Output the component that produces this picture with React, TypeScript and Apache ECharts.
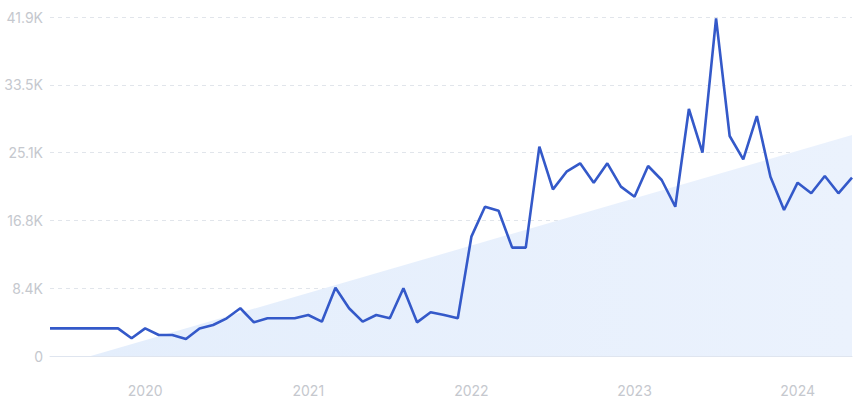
import React, { useEffect, useRef } from "react";
import * as echarts from "echarts";

// Monthly categories, June 2019 – May 2024
const startYear = 2019;
const startMonth = 6;
const monthCount = 60;
const months: string[] = [];
for (let i = 0; i < monthCount; i++) {
  const m = startMonth - 1 + i;
  const y = startYear + Math.floor(m / 12);
  const mm = (m % 12) + 1;
  months.push(`${y}-${mm < 10 ? "0" + mm : mm}`);
}

const searchVolume: number[] = [
  3420, 3420, 3420, 3420, 3420, 3420, 2190, 3420, 2600, 2600,
  2100, 3400, 3830, 4660, 5900, 4160, 4660, 4660, 4660, 5070,
  4240, 8440, 5900, 4240, 5070, 4660, 8370, 4160, 5400, 5070,
  4660, 14750, 18450, 17960, 13390, 13390, 25870, 20600, 22780, 23820,
  21420, 23820, 20930, 19690, 23480, 21750, 18450, 30530, 25130, 41740,
  27190, 24310, 29660, 22160, 18050, 21420, 20110, 22250, 20110, 22040,
];

// Background trend wedge: [category index, value]
const trendPoints: [number, number][] = [
  [2.9, 0],
  [59, 27300],
];

const yMax = 41900;
const yInterval = 8380;

export default function App() {
  const ref = useRef<HTMLDivElement>(null);

  useEffect(() => {
    document.body.style.margin = "0";
    if (!ref.current) return;
    const chart = echarts.init(ref.current, undefined, { renderer: "svg" });
    const labelColor = "#c5c8ce";
    chart.setOption({
      animation: false,
      grid: { left: 50, right: 9, top: 17, bottom: 45 },
      xAxis: {
        type: "category",
        data: months,
        boundaryGap: false,
        axisLine: { show: true, lineStyle: { color: "#dfe5ef", width: 1 } },
        axisTick: { show: false },
        splitLine: { show: false },
        axisLabel: {
          color: labelColor,
          fontSize: 14,
          fontFamily: "Inter, 'Noto Sans', sans-serif",
          margin: 27,
          interval: (_i: number, v: string) => v.endsWith("-01"),
          formatter: (v: string) => v.slice(0, 4),
        },
      },
      yAxis: {
        type: "value",
        min: 0,
        max: yMax,
        interval: yInterval,
        axisLine: { show: false },
        axisTick: { show: false },
        splitLine: {
          show: true,
          lineStyle: { color: "#e1e5eb", type: [4, 4], width: 1 },
        },
        axisLabel: {
          color: labelColor,
          fontSize: 14,
          fontFamily: "Inter, 'Noto Sans', sans-serif",
          margin: 7,
          formatter: (v: number) => (v === 0 ? "0" : (v / 1000).toFixed(1) + "K"),
        },
      },
      series: [
        {
          name: "trend",
          type: "line",
          data: trendPoints,
          symbol: "none",
          silent: true,
          lineStyle: { width: 0, opacity: 0 },
          areaStyle: {
            opacity: 1,
            color: new echarts.graphic.LinearGradient(0, 0, 1, 0, [
              { offset: 0, color: "#e4eefc" },
              { offset: 1, color: "#ebf2fd" },
            ]),
          },
          z: 1,
        },
        {
          name: "volume",
          type: "line",
          data: searchVolume,
          symbol: "none",
          lineStyle: { color: "#3459c9", width: 2.6 },
          z: 3,
        },
      ],
    });
    return () => chart.dispose();
  }, []);

  return <div ref={ref} style={{ width: 861, height: 401 }} />;
}
